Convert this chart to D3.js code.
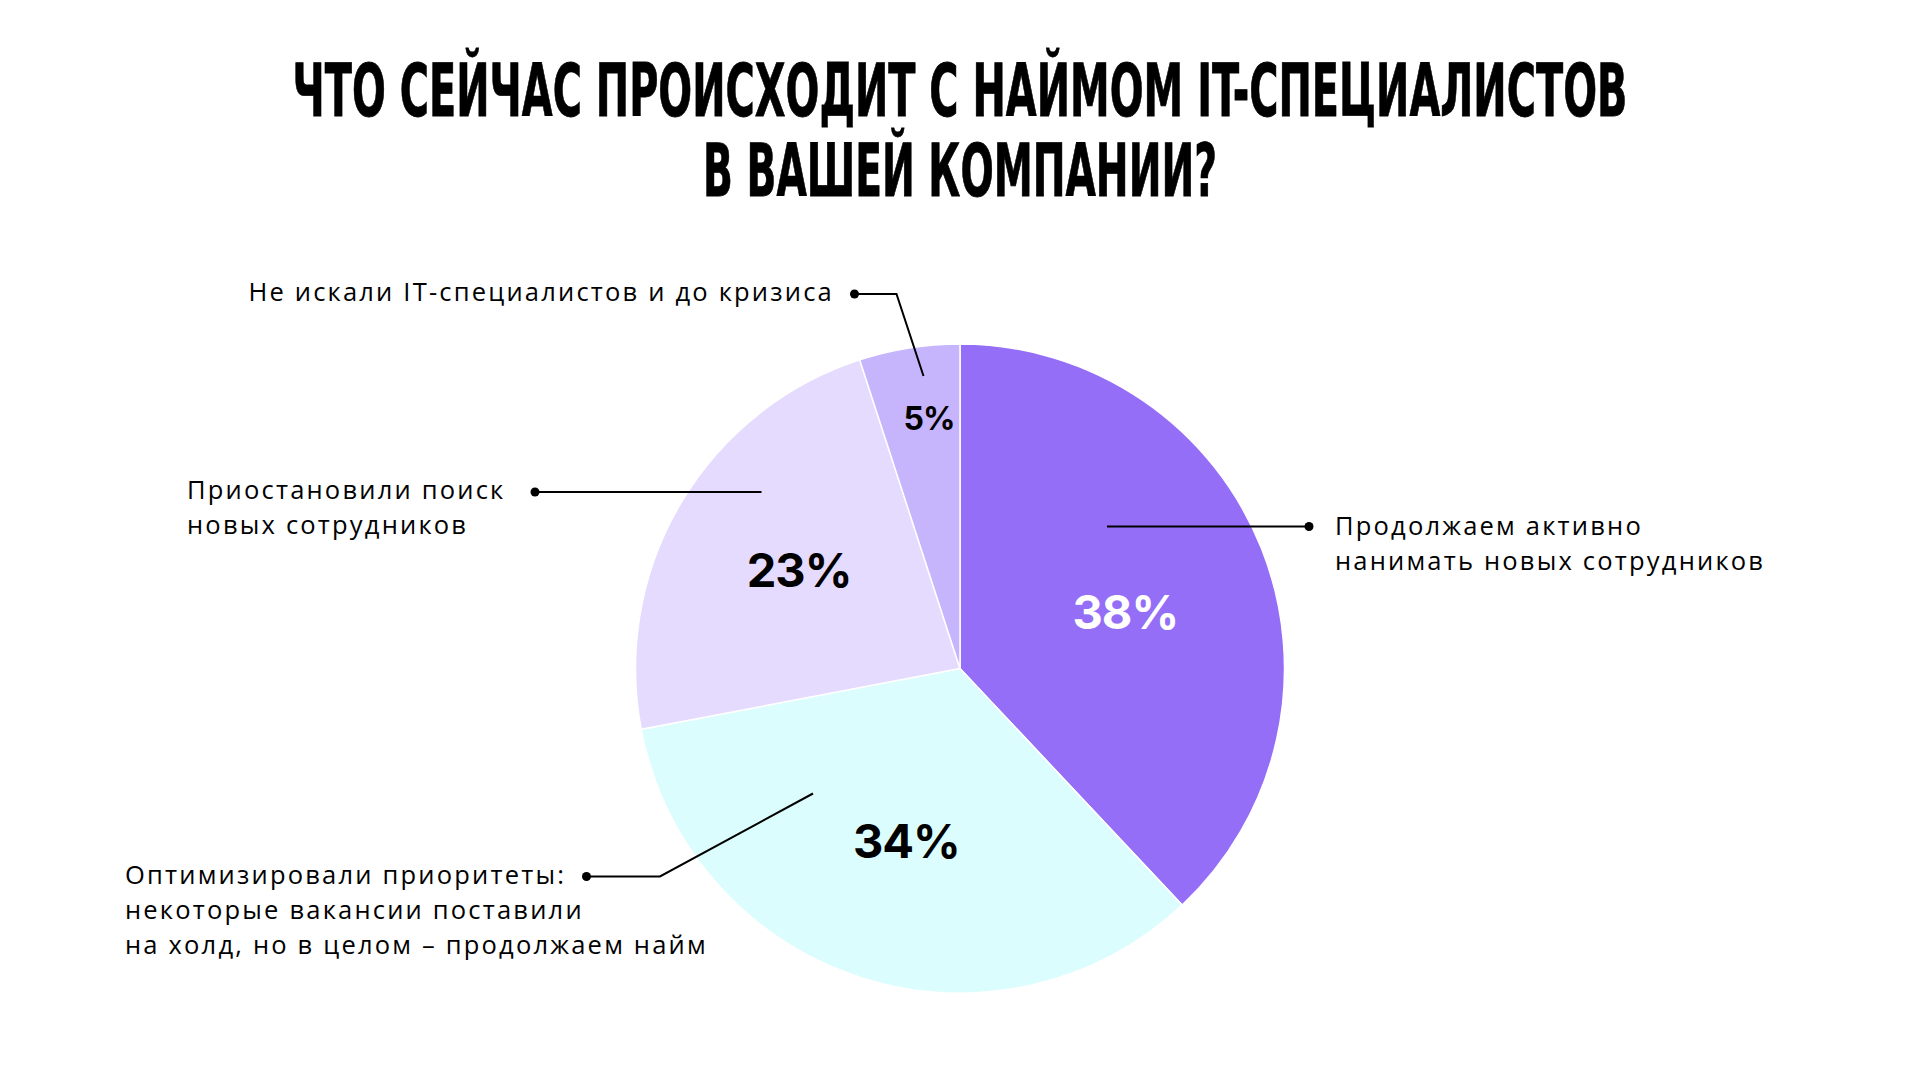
<!DOCTYPE html>
<html>
<head>
<meta charset="utf-8">
<script src="https://cdn.jsdelivr.net/npm/d3@7"></script>
<style>
  body { margin: 0; background: #fff; }
  svg { display: block; }
</style>
</head>
<body>
<svg></svg>
<script>
const width = 1920;
const height = 1080;

// data
const titleLines = ["ЧТО СЕЙЧАС ПРОИСХОДИТ С НАЙМОМ IT-СПЕЦИАЛИСТОВ", "В ВАШЕЙ КОМПАНИИ?"];
const categories = ["active", "optimized", "paused", "notSearching"];
const values = [38, 34, 23, 5];
const labelLines = [
  ["Продолжаем активно", "нанимать новых сотрудников"],
  ["Оптимизировали приоритеты:", "некоторые вакансии поставили", "на холд, но в целом – продолжаем найм"],
  ["Приостановили поиск", "новых сотрудников"],
  ["Не искали IT-специалистов и до кризиса"]
];

// colours
const palette = ["#946ef7", "#dcfdfd", "#e5dbfe", "#c6b5fc"];
const pctColor = ["#ffffff", "#000000", "#000000", "#000000"];

//svg
const svg = d3.select("svg").attr("width", width).attr("height", height);

const cx = 960, cy = 668.5, radius = 324.5;

//title - condensed look made by squeezing a narrow bold face to the original widths
const titleWidths = [1335, 514];
const titles = svg.append("g")
  .selectAll("g")
  .data(titleLines)
  .enter()
  .append("g");

titles.append("text")
  .attr("x", 0)
  .attr("y", 0)
  .attr("text-anchor", "middle")
  .style("font-family", "'Liberation Sans Narrow', 'DejaVu Sans Condensed', 'Liberation Sans', sans-serif")
  .style("font-weight", 700)
  .style("font-size", "73px")
  .style("fill", "#000")
  .style("stroke", "#000")
  .style("stroke-width", 0.8)
  .text((d) => d);

titles.attr("transform", function (d, i) {
  const w = d3.select(this).select("text").node().getComputedTextLength();
  return `translate(${cx},${116 + i * 80}) scale(${titleWidths[i] / w},1)`;
});

//pie
const color = d3.scaleOrdinal().domain(categories).range(palette);
const pie = d3.pie().sort(null).value((d, i) => values[i]);
const arcs = pie(categories);
const arc = d3.arc().innerRadius(0).outerRadius(radius);

const chart = svg.append("g").attr("transform", `translate(${cx},${cy})`);

chart.append("g")
  .selectAll("path")
  .data(arcs)
  .enter()
  .append("path")
  .attr("d", arc)
  .attr("fill", (d) => color(d.data))
  .attr("stroke", "#fff")
  .attr("stroke-width", 1.5);

// percentage labels: centroid, plus a small hand nudge to sit like the original
const labelArc = (d) => d3.arc().innerRadius(0).outerRadius(d.value < 10 ? 500 : 360).centroid(d);
const pctNudge = [[-2, 10], [2, 1], [-6, -7], [8, -3]];

chart.append("g")
  .selectAll("text")
  .data(arcs)
  .enter()
  .append("text")
  .attr("x", (d, i) => labelArc(d)[0] + pctNudge[i][0])
  .attr("y", (d, i) => labelArc(d)[1] + pctNudge[i][1])
  .attr("dy", "0.36em")
  .attr("text-anchor", "middle")
  .style("font-family", "Inter, 'Noto Sans', sans-serif")
  .style("font-weight", 700)
  .style("letter-spacing", "-1px")
  .style("font-size", (d) => (d.value < 10 ? "32px" : "47px"))
  .style("fill", (d, i) => pctColor[i])
  .text((d) => d.value + "%");

// callouts, relative to the pie centre
const callouts = [
  { path: [[147, -142], [349, -142]], text: [375, -133.5], anchor: "start" },
  { path: [[-147, 125], [-300, 208], [-373.5, 208]], text: [-835, 215.5], anchor: "start" },
  { path: [[-198.5, -176.5], [-425, -176.5]], text: [-773, -170], anchor: "start" },
  { path: [[-36.5, -292.5], [-63.5, -374.5], [-105.5, -374.5]], text: [-126, -367.5], anchor: "end" }
];

const line = d3.line();
const notes = chart.append("g")
  .selectAll("g")
  .data(callouts)
  .enter()
  .append("g");

notes.append("path")
  .attr("d", (d) => line(d.path))
  .attr("fill", "none")
  .attr("stroke", "#000")
  .attr("stroke-width", 2);

notes.append("circle")
  .attr("cx", (d) => d.path[d.path.length - 1][0])
  .attr("cy", (d) => d.path[d.path.length - 1][1])
  .attr("r", 4.5)
  .attr("fill", "#000");

notes.append("text")
  .attr("x", (d) => d.text[0])
  .attr("y", (d) => d.text[1])
  .attr("text-anchor", (d) => d.anchor)
  .style("font-family", "'Open Sans', sans-serif")
  .style("font-size", "25.5px")
  .style("letter-spacing", "2.2px")
  .style("fill", "#000")
  .selectAll("tspan")
  .data((d, i) => labelLines[i].map((t) => ({ t, x: d.text[0] })))
  .enter()
  .append("tspan")
  .attr("x", (d) => d.x)
  .attr("dy", (d, i) => (i === 0 ? 0 : 35))
  .text((d) => d.t);
</script>
</body>
</html>
